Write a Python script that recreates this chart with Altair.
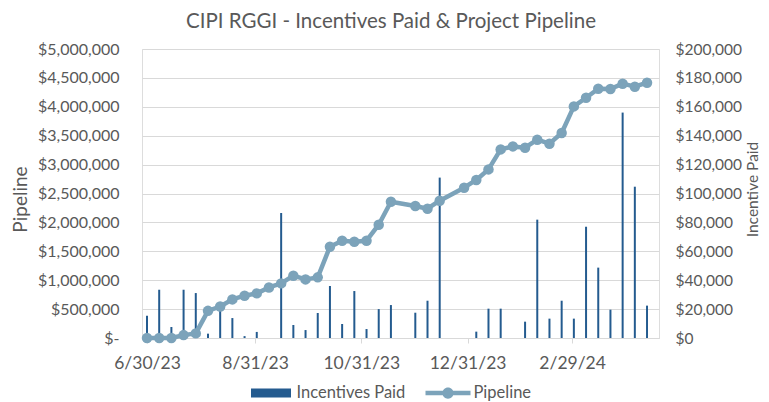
import altair as alt
import pandas as pd

# ---- data ----
pipeline_dates = [
    "2023-06-30", "2023-07-07", "2023-07-14", "2023-07-21", "2023-07-28",
    "2023-08-04", "2023-08-11", "2023-08-18", "2023-08-25", "2023-09-01",
    "2023-09-08", "2023-09-15", "2023-09-22", "2023-09-29", "2023-10-06",
    "2023-10-13", "2023-10-20", "2023-10-27", "2023-11-03", "2023-11-10",
    "2023-11-17", "2023-12-01", "2023-12-08", "2023-12-15", "2023-12-29",
    "2024-01-05", "2024-01-12", "2024-01-19", "2024-01-26", "2024-02-02",
    "2024-02-09", "2024-02-16", "2024-02-23", "2024-03-01", "2024-03-08",
    "2024-03-15", "2024-03-22", "2024-03-29", "2024-04-05", "2024-04-12",
]
pipeline_values = [
    0, 0, 0, 50000, 80000,
    470000, 545000, 668000, 732000, 772000,
    875000, 945000, 1078000, 1014000, 1049000,
    1580000, 1683000, 1666000, 1683000, 1960000,
    2358000, 2284000, 2237000, 2375000, 2600000,
    2734000, 2917000, 3263000, 3315000, 3292000,
    3431000, 3362000, 3547000, 4007000, 4157000,
    4313000, 4308000, 4400000, 4348000, 4417000,
]

incentive_dates = [
    "2023-06-30", "2023-07-07", "2023-07-14", "2023-07-21", "2023-07-28",
    "2023-08-04", "2023-08-11", "2023-08-18", "2023-08-25", "2023-09-01",
    "2023-09-15", "2023-09-22", "2023-09-29", "2023-10-06", "2023-10-13",
    "2023-10-20", "2023-10-27", "2023-11-03", "2023-11-10", "2023-11-17",
    "2023-12-01", "2023-12-08", "2023-12-15", "2024-01-05", "2024-01-12",
    "2024-01-19", "2024-02-02", "2024-02-09", "2024-02-16", "2024-02-23",
    "2024-03-01", "2024-03-08", "2024-03-15", "2024-03-22", "2024-03-29",
    "2024-04-05", "2024-04-12",
]
incentive_values = [
    15400, 33400, 7600, 33400, 31100,
    3000, 20000, 13800, 1300, 4200,
    86500, 9000, 5500, 17300, 36000,
    9700, 32500, 6200, 20000, 22800,
    17500, 25800, 111000, 4400, 20300,
    20300, 11300, 81900, 13400, 25800,
    13400, 77000, 48700, 19600, 156000,
    104700, 22400,
]

x_tick_dates = ["2023-06-30", "2023-08-31", "2023-10-31", "2023-12-31", "2024-02-29"]
x_domain_dates = ["2023-06-30", "2024-04-16"]
left_ticks = [0, 500000, 1000000, 1500000, 2000000, 2500000,
              3000000, 3500000, 4000000, 4500000, 5000000]
right_ticks = [0, 20000, 40000, 60000, 80000, 100000,
               120000, 140000, 160000, 180000, 200000]
series_names = ["Incentives Paid", "Pipeline"]

# ---- styling ----
BAR = "#245B8F"
LINE = "#7CA3BA"
TXT = "#595959"
GRID = "#D9D9D9"
FONT = "Lato"


def to_dt(s):
    t = pd.Timestamp(s)
    return alt.DateTime(year=t.year, month=t.month, date=t.day, utc=True)


pipe_df = pd.DataFrame({"date": pipeline_dates, "value": pipeline_values,
                        "series": series_names[1]})
inc_df = pd.DataFrame({"date": incentive_dates, "value": incentive_values,
                       "series": series_names[0]})

RECT = "M-0.889,-0.2H0.889V0.2H-0.889Z"
PIPE = ("M-1,-0.1H1V0.1H-1Z M0.25,0A0.25,0.25 0 1,1 -0.25,0"
        "A0.25,0.25 0 1,1 0.25,0Z")

legend = alt.Legend(
    title=None, orient="none", direction="horizontal",
    legendX=106.5, legendY=321.5, padding=0,
    symbolSize=2025, labelFont=FONT, labelFontSize=16.5, labelColor=TXT,
    labelOffset=3, columnPadding=20,
    symbolType={"expr": "datum.value === 'Pipeline' ? '%s' : '%s'" % (PIPE, RECT)},
    symbolFillColor={"expr": "datum.value === 'Pipeline' ? '%s' : '%s'" % (LINE, BAR)},
    symbolStrokeWidth=0, symbolOpacity=1,
)

color = alt.Color("series:N",
                  scale=alt.Scale(domain=series_names, range=[BAR, LINE]),
                  legend=legend)

x_enc = alt.X(
    "date:T",
    scale=alt.Scale(type="utc", domain=[to_dt(d) for d in x_domain_dates]),
    axis=alt.Axis(
        values=[to_dt(d) for d in x_tick_dates], format="%-m/%-d/%y",
        title=None, grid=False, domainColor=GRID, tickColor=GRID,
        tickSize=5, labelPadding=11, labelFont=FONT, labelFontSize=17.5,
        labelColor=TXT, labelFlush=False,
    ),
)

bars = alt.Chart(inc_df).mark_bar(size=2).encode(
    x=x_enc,
    y=alt.Y("value:Q",
            scale=alt.Scale(domain=[0, 200000], nice=False),
            axis=alt.Axis(orient="right", values=right_ticks, format="$,.0f",
                          grid=False, domain=False, ticks=False, tickSize=0,
                          labelPadding=16, labelFont=FONT, labelFontSize=15.5,
                          labelColor=TXT, title="Incentive Paid",
                          titleFont=FONT, titleFontSize=15.5,
                          titleFontWeight="normal", titleColor=TXT,
                          titleAngle=270, titleAlign="center",
                          titleBaseline="middle", titleX=93.5, titleY=140)),
    color=color,
)

line = alt.Chart(pipe_df).mark_line(
    strokeWidth=4.5, strokeJoin="round", strokeCap="round",
    point=alt.OverlayMarkDef(filled=True, size=110, opacity=1),
).encode(
    x=x_enc,
    y=alt.Y("value:Q",
            scale=alt.Scale(domain=[0, 5000000], nice=False),
            axis=alt.Axis(orient="left", values=left_ticks,
                          labelExpr="datum.value == 0 ? '$-' : '$' + format(datum.value, ',.0f')",
                          grid=True, gridColor=GRID, gridWidth=1,
                          domain=False, ticks=False, tickSize=0,
                          labelPadding=23, labelFont=FONT, labelFontSize=16,
                          labelColor=TXT, title="Pipeline",
                          titleFont=FONT, titleFontSize=19,
                          titleFontWeight="normal", titleColor=TXT,
                          titleAngle=270, titleAlign="center",
                          titleBaseline="middle", titleX=-122, titleY=150)),
    color=color,
)

chart = alt.layer(bars, line).resolve_scale(y="independent").properties(
    width=517, height=289,
    autosize=alt.AutoSizeParams(type="none"),
    padding={"left": 134, "top": 41, "right": 102, "bottom": 64},
    title=alt.TitleParams(
        "CIPI RGGI - Incentives Paid & Project Pipeline",
        font=FONT, fontSize=20.5, fontWeight="normal", color=TXT,
        anchor="middle", frame="group", dx=-9.5, dy=7, baseline="alphabetic",
        offset=0,
    ),
).configure_view(stroke=None).configure(font=FONT, background="white")

chart.save("out.html", embed_options={"renderer": "svg", "actions": False})
